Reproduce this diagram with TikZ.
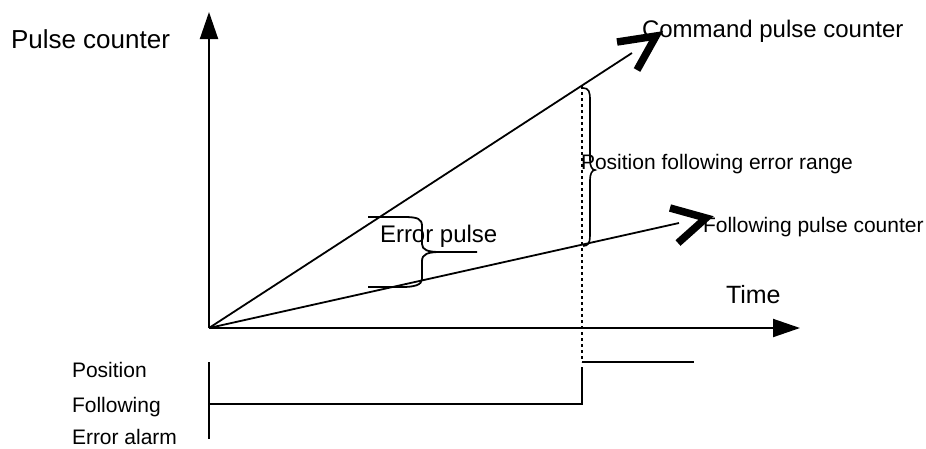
\documentclass[tikz,border=0pt]{standalone}
\usepackage{fontspec}
\setmainfont{Liberation Sans}
\usetikzlibrary{arrows.meta}
\tikzset{
  axis/.style={line width=2pt,-{Triangle[length=27pt,width=18pt]}},
  ln/.style={line width=1.8pt},
  chev/.style={line width=7.5pt,miter limit=10},
  dotline/.style={line width=1.8pt,dash pattern=on 3pt off 3pt},
  lbl/.style={anchor=base west,inner sep=0pt,outer sep=0pt},
}
\newcommand{\fs}[1]{\fontsize{#1}{#1}\selectfont}
\begin{document}
\begin{tikzpicture}[x=1pt,y=-1pt]
\useasboundingbox (0,0) rectangle (926,448);
% key points
\coordinate (O) at (209,328);
\coordinate (Ytip) at (209,12);
\coordinate (Xtip) at (800,328);
\coordinate (Cend) at (632,53);
\coordinate (Fend) at (679,223);
\coordinate (Dtop) at (582,86);
\coordinate (Dbot) at (582,362);
% axes
\draw[axis] (O) -- (Ytip);
\draw[axis] (O) -- (Xtip);
% lines
\draw[ln] (O) -- (Cend);
\draw[ln] (O) -- (Fend);
% chevrons
\draw[chev] (617,42) -- (656,36) -- (637,70);
\draw[chev] (670,208) -- (706,218) -- (678,243);
% dotted vertical
\draw[dotline] (Dtop) -- (Dbot);
% brace for range
\draw[line width=1.6pt] (583,88) .. controls (589,88) and (590,92) .. (590,100) -- (590,160)
  .. controls (590,166) and (592,170) .. (595,170)
  .. controls (592,170) and (590,174) .. (590,180) -- (590,236)
  .. controls (590,243) and (588,246) .. (583,246);
% error pulse brace
\draw[line width=1.8pt] (368,217) -- (404,217) .. controls (418,217) and (422,219) .. (422,226) -- (422,244)
  .. controls (422,250) and (428,252) .. (440,252) -- (477,252);
\draw[line width=1.8pt] (440,252) .. controls (428,252) and (422,254) .. (422,261) -- (422,279)
  .. controls (422,285) and (414,287) .. (402,287) -- (368,287);
% alarm step
\draw[ln] (209,362) -- (209,439);
\draw[ln] (209,404) -- (582,404) -- (582,367);
\draw[ln] (Dbot) -- (694,362);
% texts
\node[lbl] (tpc) at (11,48) {\fs{26}Pulse counter};
\node[lbl] (tcmd) at (642,37) {\fs{24}Command pulse counter};
\node[lbl] (ttime) at (726,303) {\fs{25}Time};
\node[lbl] (trange) at (581,169) {\fs{21}Position following error range};
\node[lbl] (tfol) at (703,232) {\fs{21}Following pulse counter};
\node[lbl] (terr) at (380,242) {\fs{24}Error pulse};
\node[lbl] (tp1) at (72,377) {\fs{21}Position};
\node[lbl] (tp2) at (72,412) {\fs{21}Following};
\node[lbl] (tp3) at (72,444) {\fs{21}Error alarm};
\end{tikzpicture}
\end{document}
